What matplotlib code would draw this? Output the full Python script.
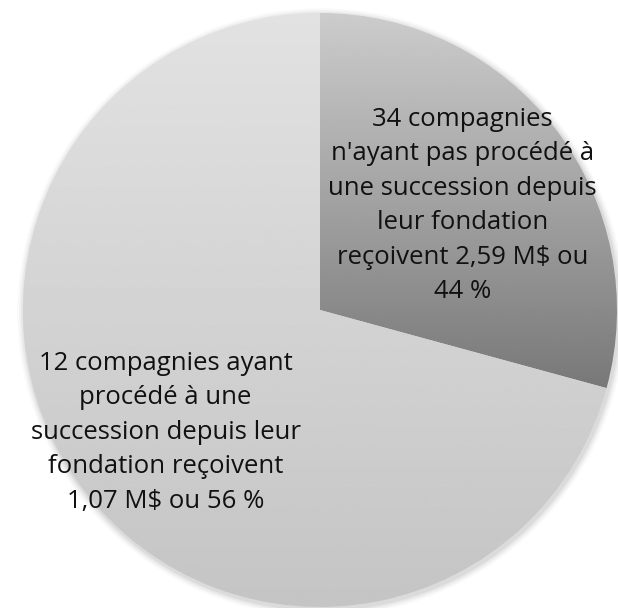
import numpy as np
import matplotlib.pyplot as plt
from matplotlib.patches import Circle

# data: amounts (M$) behind each slice, and the slice labels
values = [1.07, 2.59]
labels = ["34 compagnies\nn'ayant pas procédé à\nune succession depuis\nleur fondation\nreçoivent 2,59 M$ ou\n44 %",
          "12 compagnies ayant\nprocédé à une\nsuccession depuis leur\nfondation reçoivent\n1,07 M$ ou 56 %"]
# vertical gradient (top, bottom) grey levels for each slice
grads = [(0.80, 0.28), (0.885, 0.77)]

plt.rcParams['font.family'] = ['Open Sans', 'DejaVu Sans']

fig = plt.figure(figsize=(6.18, 6.08), dpi=100)
ax = fig.add_axes([0, 0, 1, 1])

# soft shadow around the pie
for i, a in enumerate([0.05, 0.04, 0.03, 0.02]):
    ax.add_patch(Circle((0.005, -0.008), 1 + 0.006 * (i + 1), color='k', alpha=a, lw=0, zorder=0))

wedges, _ = ax.pie(values, startangle=90, counterclock=False, radius=1,
                   wedgeprops=dict(linewidth=0, facecolor='none'), frame=True)
ax.set_xlim(-320 / 297, 298 / 297)
ax.set_ylim(-298 / 297, 310 / 297)
ax.set_aspect('auto')
ax.axis('off')

for w, (top, bot) in zip(wedges, grads):
    g = np.linspace(top, bot, 256).reshape(-1, 1)
    im = ax.imshow(g, cmap='gray', vmin=0, vmax=1, extent=(-1, 1, -1, 1),
                   aspect='auto', zorder=1, interpolation='bilinear')
    im.set_clip_path(w)

ax.text(0.48, 0.352, labels[0], ha='center', va='center', fontsize=18.5,
        linespacing=1.5, color='#111111', zorder=3)
ax.text(-0.52, -0.412, labels[1], ha='center', va='center', fontsize=18.5,
        linespacing=1.5, color='#111111', zorder=3)

fig.savefig('out.png', dpi=100)
